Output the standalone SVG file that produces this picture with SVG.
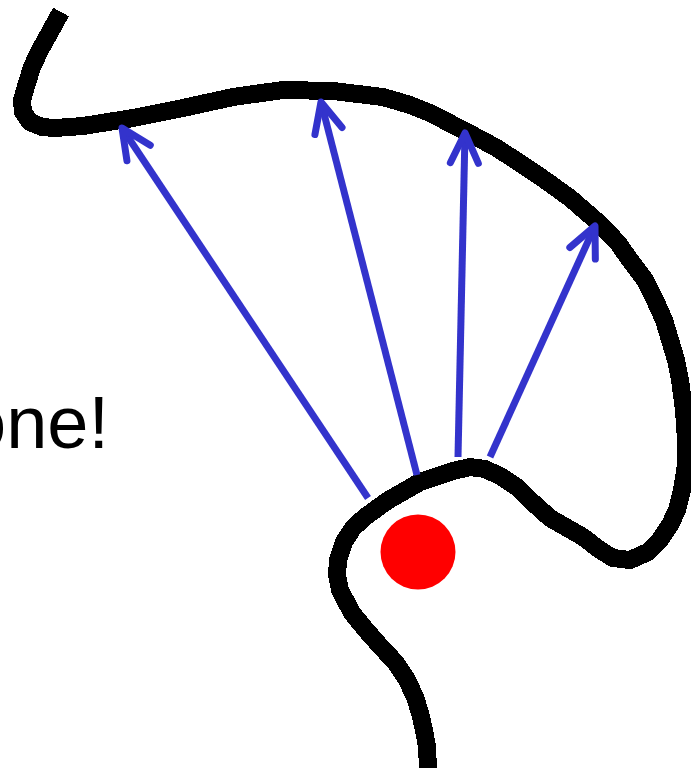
<svg xmlns="http://www.w3.org/2000/svg" width="691" height="771" viewBox="0 0 691 771">
  <style>
    .curve { fill: none; stroke: #000; stroke-width: 18; stroke-linejoin: round; stroke-linecap: butt; }
    .arrow { fill: none; stroke: #3333CC; stroke-width: 7; stroke-linecap: butt; }
    .label { font-family: "Liberation Sans", Arial, sans-serif; font-size: 74px; fill: #000; }
  </style>
  <defs>
    <marker id="head" markerUnits="userSpaceOnUse" viewBox="-40 -22 50 44" refX="0" refY="0" markerWidth="50" markerHeight="44" orient="auto" overflow="visible">
      <path d="M-30,-14 L0,0 L-30,14" fill="none" stroke="#3333CC" stroke-width="7" stroke-linecap="round" stroke-linejoin="round"/>
    </marker>
  </defs>
  <rect width="691" height="771" fill="#fff"/>
  <g id="label">
    <text class="label" x="-35" y="448">one!</text>
  </g>
  <g id="curve">
    <path class="curve" shape-rendering="crispEdges" d="M61,12 L50,32 L40,50 L32,67 L27,83 L22,100 L23,112 L30,122 L42,127 L55,128 L83,126 L133,118 L183,108 L233,97 L283,90 L333,91 L383,97 L410,105 L430,113 L465,131 L495,147 L520,163 L545,180 L570,198 L600,224 L618,243 L630,260 L645,280 L655,300 L664,320 L670,340 L676,360 L680,380 L684,410 L686,440 L686,465 L682,490 L677,510 L670,525 L660,540 L648,552 L630,560 L613,558 L600,550 L583,537 L550,518 L530,500 L517,487 L500,476 L485,469 L470,467 L453,471 L420,482 L387,501 L365,517 L353,528 L344,542 L338,560 L337,575 L340,590 L352,613 L366,630 L381,647 L396,663 L407,680 L415,697 L420,713 L424,730 L427,747 L428,768"/>
  </g>
  <g id="dot">
    <circle cx="418" cy="552" r="37.5" fill="#FF0000"/>
  </g>
  <g id="connectors">
    <line class="arrow" x1="368" y1="498" x2="122" y2="128" marker-end="url(#head)"/>
    <line class="arrow" x1="417" y1="475" x2="321" y2="102" marker-end="url(#head)"/>
    <line class="arrow" x1="458" y1="457" x2="465" y2="133" marker-end="url(#head)"/>
    <line class="arrow" x1="490" y1="457" x2="595" y2="226" marker-end="url(#head)"/>
  </g>
</svg>
